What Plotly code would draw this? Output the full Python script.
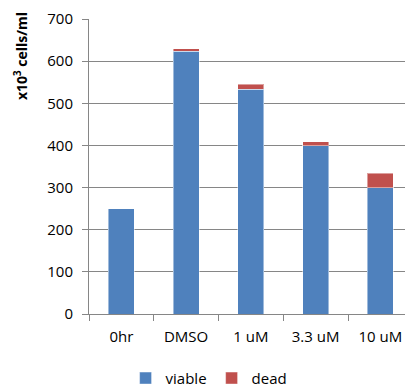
import plotly.graph_objects as go

categories = ["0hr", "DMSO", "1 uM", "3.3 uM", "10 uM"]
viable = [250, 623, 533, 399, 300]
dead = [0, 7, 12, 10, 34]
y_ticks = [0, 100, 200, 300, 400, 500, 600, 700]

FONT = "Open Sans"
GRID = "#868686"

fig = go.Figure()
fig.add_trace(go.Bar(x=categories, y=viable, name="viable", width=0.4,
                     marker=dict(color="#4F81BD", line=dict(color="rgba(255,255,255,0.45)", width=1))))
fig.add_trace(go.Bar(x=categories, y=dead, name="dead", width=0.4,
                     marker=dict(color="#C0504D", line=dict(color="rgba(255,255,255,0.45)", width=1))))

fig.update_layout(
    barmode="stack",
    width=405, height=389,
    margin=dict(l=89, r=0, t=19, b=75, pad=0, autoexpand=False),
    paper_bgcolor="white", plot_bgcolor="white",
    font=dict(family=FONT, size=15, color="#000000"),
    showlegend=True,
    legend=dict(orientation="h", x=0.38, xanchor="center", y=-0.218, yanchor="middle",
                font=dict(size=15), itemwidth=30, traceorder="normal"),
    xaxis=dict(range=[-0.5, 4.38], showgrid=False, showline=True, linecolor=GRID, linewidth=1,
               ticks="outside", tickson="boundaries", ticklen=6, tickcolor=GRID,
               tickfont=dict(size=15), ticklabelstandoff=9),
    yaxis=dict(range=[0, 700], tickvals=y_ticks, showgrid=True, gridcolor=GRID, gridwidth=1,
               showline=True, linecolor=GRID, linewidth=1, ticks="outside", ticklen=6,
               tickcolor=GRID, tickfont=dict(size=15), zeroline=False, ticklabelstandoff=6),
)
fig.add_annotation(text="<b>x10<sup>3</sup> cells/ml</b>", textangle=-90,
                   xref="paper", yref="paper", x=-0.215, xanchor="center",
                   y=(314.3 - 56) / 295.3, yanchor="middle", showarrow=False,
                   font=dict(size=14, family=FONT))

fig.write_html("out.html")
